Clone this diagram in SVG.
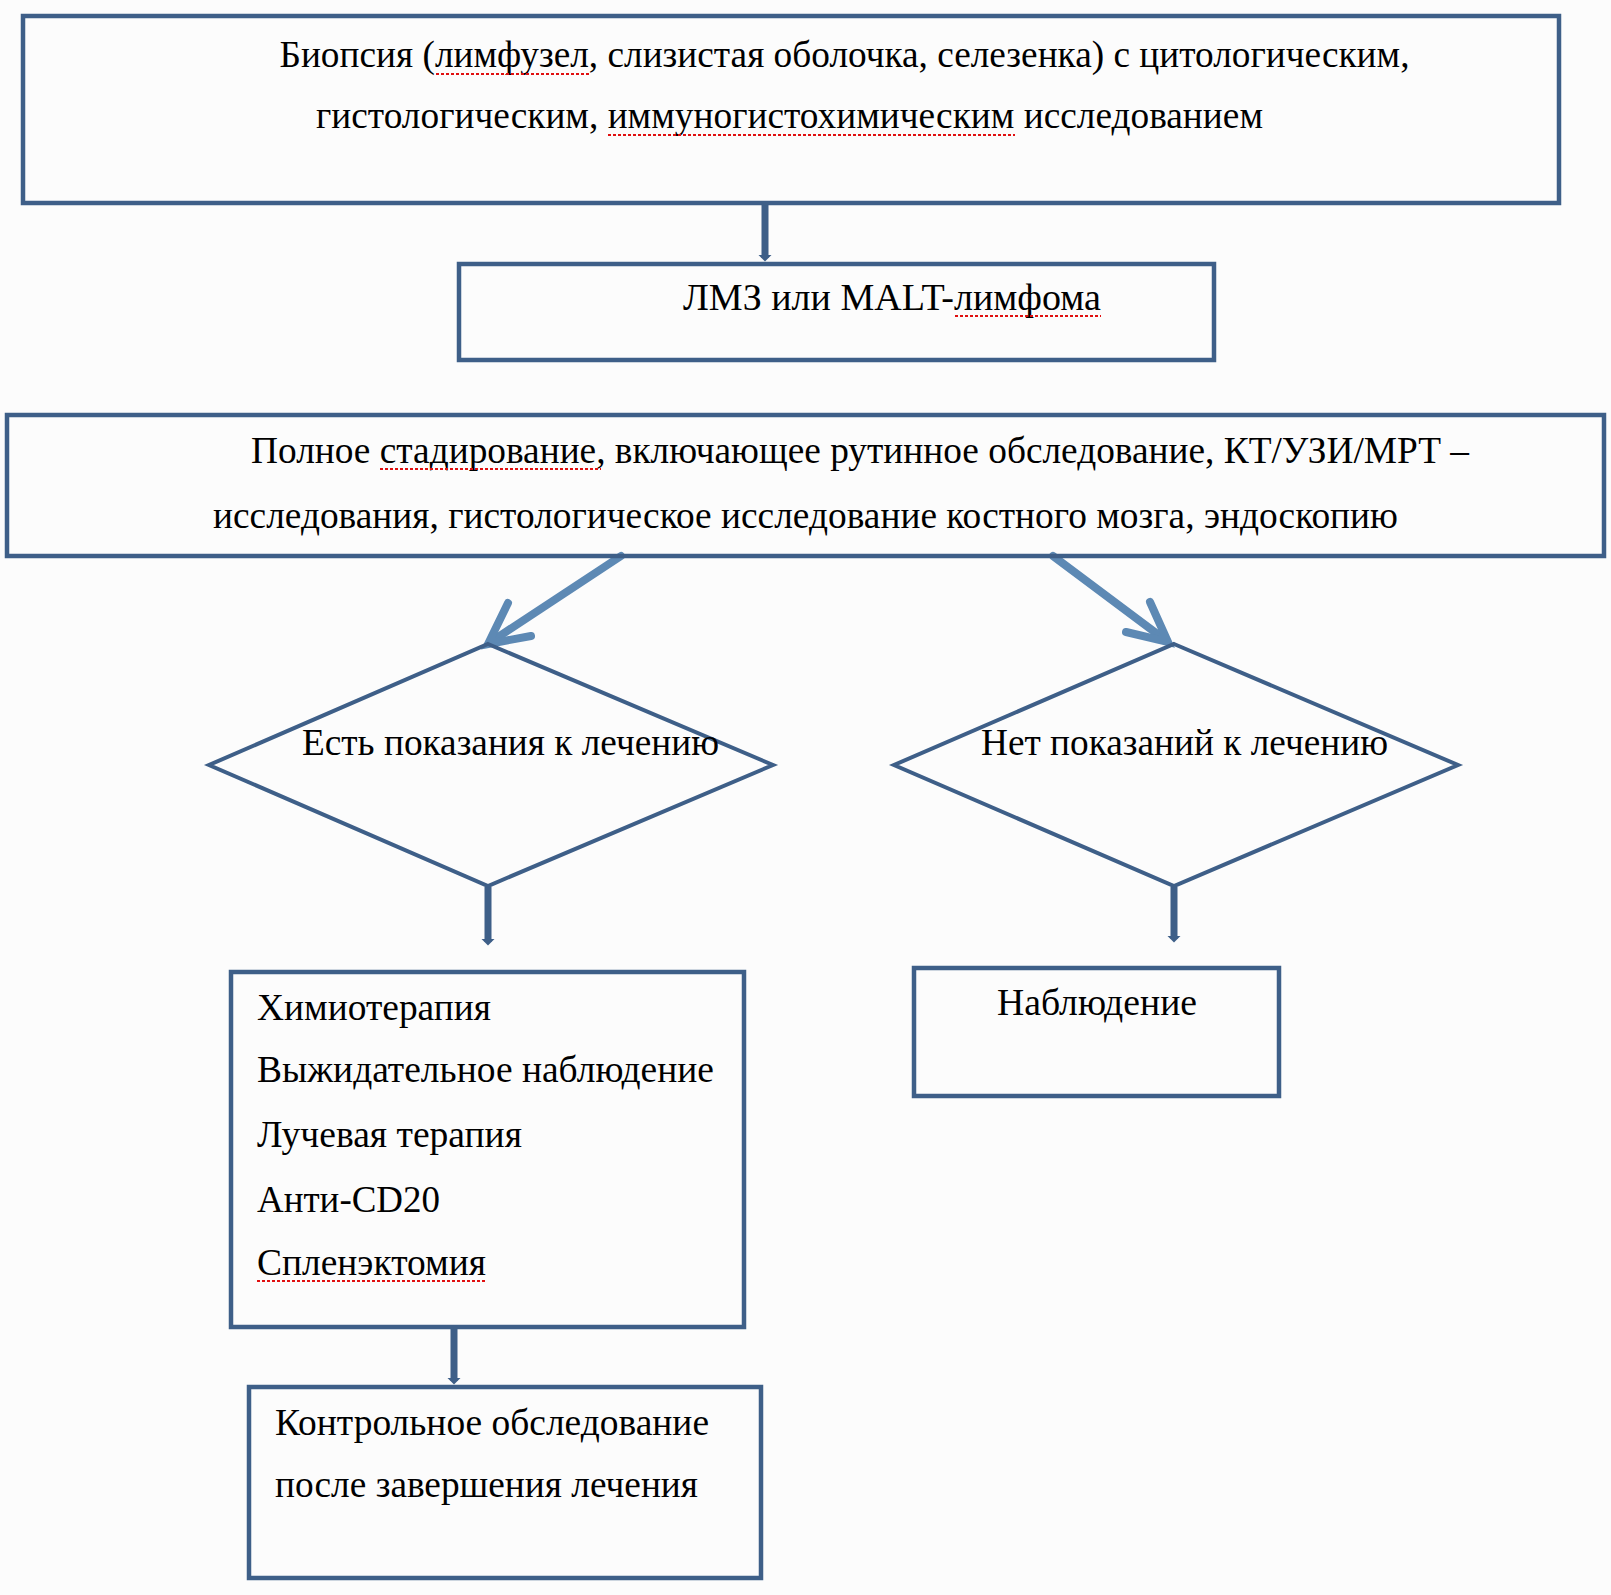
<svg xmlns="http://www.w3.org/2000/svg" width="1611" height="1595" viewBox="0 0 1611 1595">
<defs>
<marker id="ah" markerWidth="1" markerHeight="2" refX="0.5" refY="1" orient="auto" markerUnits="strokeWidth" viewBox="0 0 1 2">
<path d="M0,0 L1,1 L0,2 Z" fill="#3e5f88"/>
</marker>
<style>
.box{fill:none;stroke:#3e5f88;stroke-width:4.5}
.dia{fill:none;stroke:#3e5f88;stroke-width:4;stroke-linejoin:miter}
.t{font-family:"Liberation Serif","Times New Roman",serif;font-size:37px;fill:#000}
.dark{fill:none;stroke:#3e5f88;stroke-width:7}
.light{fill:none;stroke:#5d89b4;stroke-width:8;stroke-linecap:round}
.sp{stroke:#e01010;stroke-width:2.2;stroke-dasharray:3 2;fill:none}
</style>
</defs>
<rect width="1611" height="1595" fill="#fcfcfc"/>

<g id="connectors">
<line class="dark" x1="765" y1="205" x2="765" y2="258" marker-end="url(#ah)"/>
<line class="light" x1="621" y1="556" x2="492" y2="641"/>
<path class="light" d="M508,603 L488,644 L531,636" stroke-linejoin="miter"/>
<line class="light" x1="1053" y1="556" x2="1164" y2="639"/>
<path class="light" d="M1150,602 L1168,642 L1126,632" stroke-linejoin="miter"/>
<line class="dark" x1="488" y1="887" x2="488" y2="942" marker-end="url(#ah)"/>
<line class="dark" x1="1174" y1="887" x2="1174" y2="939" marker-end="url(#ah)"/>
<line class="dark" x1="454" y1="1329" x2="454" y2="1381" marker-end="url(#ah)"/>
</g>

<g id="biopsy">
<rect class="box" x="23" y="16" width="1536" height="187"/>
<text class="t" x="279.5" y="67" textLength="1130" lengthAdjust="spacingAndGlyphs">Биопсия (лимфузел, слизистая оболочка, селезенка) с цитологическим,</text>
<text class="t" x="316" y="128" textLength="947" lengthAdjust="spacingAndGlyphs">гистологическим, иммуногистохимическим исследованием</text>
<line class="sp" x1="436" y1="74" x2="589" y2="74"/>
<line class="sp" x1="608" y1="135" x2="1015" y2="135"/>
</g>

<g id="lmz">
<rect class="box" x="459" y="264" width="755" height="96"/>
<text class="t" x="683" y="310" textLength="418" lengthAdjust="spacingAndGlyphs">ЛМЗ или MALT-лимфома</text>
<line class="sp" x1="955" y1="316" x2="1101" y2="316"/>
</g>

<g id="staging">
<rect class="box" x="7" y="415" width="1597" height="141"/>
<text class="t" x="251" y="463" textLength="1218" lengthAdjust="spacingAndGlyphs">Полное стадирование, включающее рутинное обследование, КТ/УЗИ/МРТ –</text>
<text class="t" x="213" y="528" textLength="1185" lengthAdjust="spacingAndGlyphs">исследования, гистологическое исследование костного мозга, эндоскопию</text>
<line class="sp" x1="380" y1="469" x2="601" y2="469"/>
</g>

<g id="yes-indication">
<polygon class="dia" points="488,644 773,765 488,886 209,765"/>
<text class="t" x="302" y="755" textLength="417" lengthAdjust="spacingAndGlyphs">Есть показания к лечению</text>
</g>

<g id="no-indication">
<polygon class="dia" points="1174,644 1458,765 1174,886 894,765"/>
<text class="t" x="981" y="755" textLength="407" lengthAdjust="spacingAndGlyphs">Нет показаний к лечению</text>
</g>

<g id="treatment">
<rect class="box" x="231" y="972" width="513" height="355"/>
<text class="t" x="257" y="1020" textLength="234" lengthAdjust="spacingAndGlyphs">Химиотерапия</text>
<text class="t" x="257" y="1082" textLength="457" lengthAdjust="spacingAndGlyphs">Выжидательное наблюдение</text>
<text class="t" x="257" y="1147" textLength="265" lengthAdjust="spacingAndGlyphs">Лучевая терапия</text>
<text class="t" x="257" y="1212" textLength="183" lengthAdjust="spacingAndGlyphs">Анти-CD20</text>
<text class="t" x="257" y="1275" textLength="229" lengthAdjust="spacingAndGlyphs">Спленэктомия</text>
<line class="sp" x1="257" y1="1281" x2="486" y2="1281"/>
</g>

<g id="observation">
<rect class="box" x="914" y="968" width="365" height="128"/>
<text class="t" x="997" y="1015" textLength="200" lengthAdjust="spacingAndGlyphs">Наблюдение</text>
</g>

<g id="control">
<rect class="box" x="249" y="1387" width="512" height="191"/>
<text class="t" x="275" y="1435" textLength="434" lengthAdjust="spacingAndGlyphs">Контрольное обследование</text>
<text class="t" x="275" y="1497" textLength="423" lengthAdjust="spacingAndGlyphs">после завершения лечения</text>
</g>
</svg>
